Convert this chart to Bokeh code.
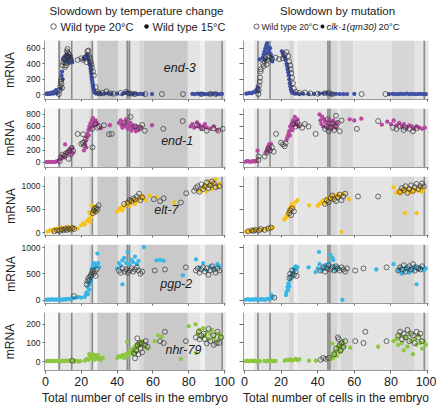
from bokeh.plotting import figure
from bokeh.layouts import column, row
from bokeh.models import Range1d, FixedTicker, BoxAnnotation, Span, Label
from bokeh.embed import file_html
from bokeh.resources import INLINE

FONT = "Liberation Sans"

# ---------------- data ----------------
genes = ["end-3", "end-1", "elt-7", "pgp-2", "nhr-79"]
gene_colors = ["#3f51a5", "#b5489f", "#f6c21c", "#3ab6e6", "#8dc63f"]
y_ticks = [[0, 200, 400, 600], [0, 200, 400, 600, 800], [0, 500, 1000], [0, 500, 1000], [0, 100, 200]]
y_limits = [(-60, 700), (-85, 900), (-60, 1210), (-60, 1050), (-47, 263)]
x_ticks = [0, 20, 40, 60, 80, 100]
gene_label_x = [75, 73.5, 67.5, 73, 77]
gene_label_y = [350, 364, 480, 300, 63]

# background timing bands (cells in embryo)
left_band_start = [7.0, 9.0, 15.0, 24.3, 26.5, 29.0, 40.5, 45.4, 47.6, 52.4, 55.0, 79.5, 86.5, 89.0, 98.0]
left_band_end = [9.0, 14.4, 24.3, 26.0, 29.0, 40.5, 45.4, 47.6, 52.4, 55.0, 79.5, 86.5, 89.0, 98.0, 101.0]
left_band_shade = ["mid", "light", "light", "mid", "pale", "dark", "light", "dark", "light", "mid",
                   "dark", "light", "pale", "mid", "light"]
left_lines = [7.7, 14.7, 26.2, 45.7, 46.9, 98.6]
right_band_start = [5.4, 7.4, 14.2, 24.3, 27.0, 29.0, 45.4, 47.0, 50.8, 52.4, 59.5, 80.5, 93.0]
right_band_end = [7.4, 13.8, 24.3, 27.0, 29.0, 45.4, 47.0, 50.8, 52.4, 59.5, 80.5, 93.0, 101.0]
right_band_shade = ["light", "light", "light", "mid", "pale", "light", "dark", "mid", "light", "mid",
                    "light", "mid", "light"]
right_lines = [7.4, 14.0, 45.6, 46.7, 98.2]

# end-3
end3_temp_20C = [(7.5,10),(8.0,60),(8.3,110),(8.6,170),(8.8,200),(9.0,140),(9.3,90),(9.6,380),(10.0,420),(10.5,460),
    (11.0,360),(11.5,380),(11.8,500),(12.0,560),(12.3,590),(12.6,540),(13.0,480),(13.3,520),(13.6,440),(11.2,410),
    (12.8,490),(14.0,460),(18.0,450),(20.0,470),(21.0,450),(22.5,480),(23.0,420),(23.5,560),(24.0,570),(24.5,500),
    (25.0,470),(25.3,430),(25.7,390),(26.0,350),(26.5,300),(27.0,250),(28.0,100),(29.0,40),(30.0,20),(32.0,25),
    (34.0,45),(36.0,20),(38.0,15),(42.0,25),(45.0,40),(46.5,20),(48.0,15),(50.0,10),(55.7,10),(65.0,10),(76.8,10),
    (87.0,8),(92.0,12),(95.0,10)]
end3_temp_15C = [(0.5,15),(1.0,10),(1.5,20),(2.0,15),(2.5,10),(3.0,25),(3.5,20),(4.0,30),(4.5,15),(5.0,40),(5.5,35),
    (6.0,60),(6.3,20),(8.5,80),(9.0,250),(9.3,300),(9.6,200),(10.0,460),(10.3,480),(10.6,440),(11.0,500),(11.3,470),
    (11.6,430),(12.0,520),(12.3,490),(12.6,450),(13.0,470),(13.4,410),(13.8,480),(14.2,500),(14.6,460),(15.0,420),
    (21.5,460),(22.0,490),(22.5,470),(23.0,510),(23.3,520),(23.6,480),(24.0,500),(24.3,440),(24.6,410),(25.0,380),
    (25.2,340),(25.4,300),(25.6,270),(25.8,230),(26.0,200),(26.2,170),(26.4,140),(26.6,110),(26.8,80),(27.0,60),
    (27.3,40),(27.6,30),(28.0,20),(28.5,25),(29.0,15),(30.0,20),(31.0,10),(33.0,15),(35.0,20),(37.0,10),(40.0,15),
    (43.0,10),(44.5,25),(45.5,30),(46.5,15),(47.5,20),(48.5,10),(50.0,15),(51.5,10),(53.0,12),(54.5,8),(59.5,10),
    (82.0,12),(83.5,10),(85.0,15),(86.5,10),(88.0,12),(89.5,8),(91.0,10),(92.5,12),(94.0,15),(95.5,10),(97.0,8),(98.5,12)]
end3_mut_20C = [(7.6,10),(7.8,60),(8.0,120),(8.3,170),(8.5,220),(8.8,300),(9.0,330),(10.2,400),(10.6,370),(11.0,430),
    (11.5,470),(12.0,390),(12.5,450),(13.0,500),(13.5,480),(15.0,470),(17.0,480),(19.0,460),(21.0,470),(22.0,520),
    (23.0,550),(24.0,500),(24.5,430),(25.0,380),(25.3,330),(25.6,280),(26.0,220),(26.5,150),(27.0,80),(28.0,40),
    (30.0,25),(33.0,30),(36.0,20),(40.0,15),(44.0,20),(46.0,25),(48.0,10),(64.0,10),(77.0,10)]
end3_mut_clk1 = [(1,15),(2,20),(3,25),(4,20),(5,35),(6,40),(6.5,60),(7,70),(7.3,100),(7.5,50),(8.3,455),(10,480),
    (10.5,520),(11,560),(11.5,600),(12,640),(12.4,665),(12.8,620),(13.2,580),(13.6,550),(14,600),(14.4,520),(14.8,480),
    (15.2,430),(11.3,450),(12.2,540),(20.5,560),(21,530),(21.5,500),(22,480),(22.5,450),(23,400),(23.3,370),(23.6,330),
    (23.9,290),(24.2,250),(24.5,200),(24.8,150),(25.1,110),(25.4,70),(25.8,40),(26.3,25),(27,20),(28,15),(30,10),
    (32,15),(35,10),(38,12),(41,15),(43,20),(45,25),(46.5,15),(48,10),(50,12),(52,10),(54,8),(56,10),(60,12),(79,10),
    (81,12),(82.5,10),(84,8),(85.5,12),(87,10),(88.5,15),(90,10),(91.5,12),(93,8),(94.5,10),(96,12),(97.5,10),(99,8)]

# end-1
end1_temp_20C = [(8.0,20),(8.5,80),(9.5,130),(10.5,110),(11.5,150),(12.5,170),(13.5,200),(14.5,240),(15.5,190),(13,60),
    (18,475),(20,310),(21,330),(21.5,290),(21,470),(22.5,390),(26.3,250),(26,560),(27.8,640),(29,580),(30,600),
    (32.7,620),(35.5,470),(37,476),(44,660),(47.5,760),(50,600),(53,580),(54,625),(55.5,530),(65.8,560),(76.6,690),
    (84.6,620),(87.4,570),(90,530),(93.7,570),(96.4,530),(99,560)]
end1_temp_15C = [(0.5,5),(1.5,10),(2.5,5),(3.5,10),(4.5,5),(5.5,10),(6.5,20),(7.5,30),(8.5,60),(9.5,100),(10.5,80),
    (11,300),(12,150),(13,180),(14,220),(15,250),(15.5,160),(14.5,120),(21.5,200),(22,300),(22.5,360),(23,420),
    (23.5,480),(24,540),(24.5,600),(25,560),(25.5,640),(26,700),(26.5,740),(27,680),(22.8,250),(24.2,450),(25.2,650),
    (26.2,600),(27.5,620),(28,700),(29,650),(31,570),(36,620),(41,660),(42,700),(42.5,620),(43,580),(44,650),
    (44.5,600),(45,720),(46,560),(46.5,640),(47,600),(48,530),(48.5,580),(49,620),(50,560),(50.5,520),(51,600),
    (52,540),(53,580),(45.5,680),(47.5,660),(59.5,620),(81,600),(82,640),(83,580),(84.6,670),(85,600),(86,620),
    (87,560),(88,600),(89,640),(90,580),(92,560),(94,600),(96,540)]
end1_mut_20C = [(7.6,40),(7.8,100),(11,100),(12,160),(13,230),(14,200),(15,250),(16,180),(17.3,476),(20,330),(21,300),
    (22,270),(22.5,320),(26.5,640),(28,600),(29,660),(30,620),(31.5,580),(33,640),(35,600),(38.9,476),(44,560),(45,600),
    (46,520),(45.5,720),(47,580),(48,650),(49,540),(50,600),(50,780),(51,660),(52,520),(53,700),(61.4,560),(73,690),
    (81,580),(83,560),(85,600),(87,540),(88,580),(90,560),(92,520),(94,570)]
end1_mut_clk1 = [(0.5,10),(1.5,20),(2.5,15),(3.5,10),(4.5,20),(5.5,15),(6.5,25),(7.2,195),(12,170),(12.5,220),(13,260),
    (13.5,300),(14,240),(14.5,310),(13.2,200),(23,380),(23.5,420),(24,470),(24.5,520),(25,600),(25.5,560),(26,650),
    (26.5,700),(27,620),(27.5,760),(28,680),(28.5,640),(29,720),(29.5,600),(24.8,450),(26.2,540),(41,800),(41.5,700),
    (42,640),(43,600),(43.5,720),(44,680),(45,580),(45.5,640),(46,700),(47,600),(47.5,560),(48,650),(48.5,700),(49,620),
    (50,580),(50.5,660),(42.5,760),(57.5,720),(60,700),(63.8,730),(75,630),(78,680),(80,640),(81.5,700),(83,620),
    (84.5,660),(86,600),(87,640),(88.5,580),(90,620),(91.5,600),(92.5,560),(94,600),(95.5,580),(97,560),(98.5,580)]

# elt-7
elt7_temp_20C = [(5,30),(6.5,50),(8,40),(9,70),(10,50),(11,80),(12,60),(13,90),(14,70),(15,100),(16,80),(26.5,420),
    (27,480),(27.5,520),(28,460),(28.5,540),(29,500),(29.7,590),(44,620),(46,650),(47,700),(48,680),(49,740),(50,720),
    (51,780),(52.3,840),(53,700),(54,760),(60.5,720),(64,680),(66,740),(75.6,650),(78.6,850),(83,900),(84,960),
    (85,1000),(86,880),(87,1040),(88,940),(89,1000),(90,1080),(91,960),(92,1020),(93,1100),(94,1060),(95,980),(97,1000)]
elt7_temp_15C = [(1,20),(2,40),(3,60),(4,30),(5,80),(6,50),(7,90),(8,70),(9,110),(10,60),(11,90),(12,130),(13,80),
    (14,110),(15,60),(16,120),(18,90),(20,160),(21,200),(22,180),(23,250),(24,290),(25,230),(25.5,330),(26,380),
    (24.5,430),(26.5,480),(27,520),(27.5,560),(28,440),(26,580),(40,450),(41,500),(42,540),(43,480),(44,560),(45,600),
    (46,640),(47,580),(48,660),(49,700),(50,620),(51,680),(52,720),(53,760),(54,800),(55,740),(56,700),(58,800),
    (62,770),(72,650),(86,900),(88,960),(89,1020),(90,880),(91,1100),(92,1000),(93,940),(94,1060),(95,1150),(96,980),
    (97,1050)]
elt7_mut_20C = [(2,30),(4,50),(5,40),(6,60),(8,50),(9,80),(11,60),(13,90),(14.5,110),(24.5,420),(25,480),(25.5,380),
    (26,520),(27,460),(44,620),(45,700),(46,660),(47,740),(48,800),(49,720),(50,680),(51,760),(52,820),(53,700),(54,780),
    (55,840),(62,780),(73,780),(85,880),(86,960),(87,920),(88,1000),(89,860),(90,940),(91,1020),(92,900),(93,980),
    (94,1050),(95,940),(96,1000),(97,1060),(98,1000)]
elt7_mut_clk1 = [(1,20),(2.5,40),(3.5,30),(5,60),(6.5,50),(8,70),(10,60),(12,90),(13.5,100),(14.5,80),(15.5,120),
    (21.7,280),(22.5,320),(23,360),(23.5,400),(24,440),(24.5,500),(25,540),(25.5,580),(26,620),(27,560),(28,660),
    (29,700),(23.8,350),(35.3,590),(40,580),(41,620),(42,660),(43,700),(44,640),(45,740),(46,700),(47,780),(48,720),
    (49,800),(50,760),(51,820),(52,780),(54,840),(53,20),(57,720),(87.6,420),(94,420),(81.4,980),(83,860),(84,900),
    (85,840),(86,920),(87,880),(88,960),(89,900),(90,860),(91,940),(92,880),(93,920),(95,900),(96,960),(97,880),(98,940)]

# pgp-2
pgp2_temp_20C = [(16,80),(23,300),(23.5,360),(24,420),(24.5,380),(25,450),(25.5,480),(26,520),(26.5,560),(27,500),
    (27.5,540),(28,460),(28.5,580),(41,560),(42,520),(43,600),(44,540),(45,580),(46,520),(47,560),(48,600),(49,540),
    (50,580),(51,620),(52,560),(53,500),(54,540),(61,560),(66.7,580),(78.4,620),(84,560),(85,600),(86,520),(87,580),
    (88,620),(89,540),(90,600),(91,480),(92,560),(93,640),(94,580),(95,520),(96,600),(97,560)]
pgp2_temp_15C = [(0.5,10),(1.5,15),(2.5,10),(3.5,20),(4.5,10),(5.5,15),(6.5,10),(7.5,20),(8.5,15),(9.5,10),(10.5,20),
    (11.5,15),(12.5,25),(13.5,20),(14.5,30),(15.5,40),(17,50),(18.5,60),(20,50),(22,60),(22.5,100),(23,150),(23.5,250),
    (24,330),(24.5,200),(25,300),(25.5,380),(23.8,120),(25.2,450),(26,600),(26.5,650),(27,700),(27.5,620),(28,680),
    (28.5,640),(29,880),(29.5,700),(30,620),(40,600),(41,700),(42,650),(43,750),(43,300),(44,800),(45,700),(46,900),
    (47,680),(48,760),(49,720),(50,820),(51,680),(52,740),(55,1000),(62,750),(64,760),(66,740),(76.6,470),(84,770),
    (86,620),(88,700),(90,560),(92,640),(94,600),(96,680),(97,640)]
pgp2_mut_20C = [(16.3,50),(24.5,420),(25,500),(25.5,440),(26,560),(27,480),(28,540),(28.5,460),(41.6,560),(43,620),
    (44,540),(45,600),(46,660),(47,580),(48,620),(49,560),(50,640),(51,600),(52,560),(53,620),(54,580),(55,540),(56,600),
    (60.5,560),(65,600),(77.6,620),(84,560),(85,620),(86,580),(87,660),(88,540),(89,600),(90,640),(91,580),(92,680),
    (93,560),(94,620),(95,600),(96,580),(97,640)]
pgp2_mut_clk1 = [(0.5,10),(2,20),(3,10),(4,15),(5,10),(6,20),(7,15),(8,10),(9,20),(10,15),(11,10),(12,20),(13,25),
    (14,30),(14.6,100),(15.5,60),(22.7,100),(23,160),(23.5,250),(24,320),(24.5,260),(25,380),(25.5,450),(26,520),
    (26.5,480),(27,600),(27.5,560),(28,640),(29,620),(23.8,200),(35,620),(40.7,910),(38.9,530),(40,600),(41,680),
    (42,560),(43,620),(44,660),(45,600),(46,700),(47,860),(48,800),(48.5,760),(49,640),(49.5,600),(50,560),(50.6,620),
    (53.5,10),(72,580),(81.4,680),(84,560),(85,600),(86,500),(87,540),(88,620),(89,580),(90,520),(91,600),(92,560),
    (93,640),(94,300),(95,580),(96,620),(97,600),(98,560),(99,600)]

# nhr-79
nhr79_temp_20C = [(15,5),(49.5,46),(50,18),(50.5,60),(51.3,125),(51.5,90),(52,40),(52.5,100),(53,70),(53.7,98),(54,50),
    (55.5,90),(56,110),(57,80),(64,110),(66,100),(66.7,160),(78.4,110),(84,130),(85.6,160),(86,120),(87,140),(88.3,150),
    (89,120),(90,98),(91,175),(92,110),(93.7,140),(94,90),(95.5,100),(96,160),(97,100),(98,130)]
nhr79_temp_15C = [(0.5,2),(1.5,5),(2.5,3),(3.5,6),(4.5,2),(5.5,4),(6.5,3),(7.5,5),(8.5,2),(9.5,6),(10.5,3),(11.5,5),
    (12.5,4),(13.5,6),(14.5,3),(15.5,5),(16.5,2),(17.5,4),(18.5,0),(19.5,3),(22,5),(23,15),(24,10),(25,30),(25.5,20),
    (26,35),(26.5,15),(27,25),(27.5,10),(28,30),(28.5,20),(29,35),(29.5,15),(30,25),(31,10),(32,20),(24.5,40),(27.2,38),
    (40,20),(41,30),(42,25),(43,35),(44,20),(45,40),(45.6,107),(46,30),(46.5,50),(47,45),(47.5,60),(48,55),(48.5,40),
    (49,70),(49.5,65),(50,80),(50.5,50),(51,90),(51.5,75),(52,95),(52.5,85),(53,100),(54,110),(55,80),(57,70),(61,110),
    (63,140),(65,135),(75.7,15),(80,190),(83.8,200),(84,46),(85,150),(86,170),(87,130),(88,180),(89,140),(90,160),
    (91,120),(92,150),(93,170),(94,130),(95,110),(96,150),(97,120),(98,140)]
nhr79_mut_20C = [(41.6,10),(43,20),(44.5,15),(46,20),(49,40),(50,70),(51,130),(51.5,120),(52,90),(52.5,60),(53,100),
    (54,80),(55,110),(60.5,110),(65,100),(66,160),(77.6,110),(84,140),(85,160),(86,120),(87,150),(88,130),(89,170),
    (90,110),(91,150),(92,140),(93,100),(94,160),(95,130),(96,150),(97,110)]
nhr79_mut_clk1 = [(0.5,3),(1.5,5),(2.5,2),(3.5,6),(4.5,3),(5.5,5),(6.5,2),(7.5,4),(8.5,3),(11,4),(12,2),(13,6),(14,3),
    (15,5),(16,2),(17,4),(22,5),(23,10),(24,8),(25,12),(26,6),(27,10),(28,15),(29,8),(30,12),(35.3,5),(39,5),(47,10),
    (47.5,30),(48,97),(48.5,20),(49,50),(49.5,40),(50,60),(50.5,30),(51,80),(51.5,70),(52,50),(52.5,90),(53,60),(54,110),
    (54.5,80),(57.8,75),(73,80),(81.4,110),(83,120),(84,90),(85,140),(86,100),(87,60),(88,130),(89,80),(90,150),(91,110),
    (92,40),(93,120),(94,90),(95,140),(96,100),(97,70),(98,110),(99,90)]

temp_open = [end3_temp_20C, end1_temp_20C, elt7_temp_20C, pgp2_temp_20C, nhr79_temp_20C]
temp_fill = [end3_temp_15C, end1_temp_15C, elt7_temp_15C, pgp2_temp_15C, nhr79_temp_15C]
mut_open = [end3_mut_20C, end1_mut_20C, elt7_mut_20C, pgp2_mut_20C, nhr79_mut_20C]
mut_fill = [end3_mut_clk1, end1_mut_clk1, elt7_mut_clk1, pgp2_mut_clk1, nhr79_mut_clk1]

# ---------------- styling ----------------
shade_colors = {"pale": "#efefef", "light": "#e4e4e4", "mid": "#d6d6d6", "dark": "#c9c9c9"}
LINE_COLOR = "#8a8a8a"
TEXT_COLOR = "#222222"

LEFT_W, RIGHT_W = 235, 201
PANEL_H, LAST_H, HEAD_H = 68, 95, 40


def split(pts):
    return [p[0] for p in pts], [p[1] for p in pts]


def make_panel(col, i):
    last = i == len(genes) - 1
    if col == 0:
        w, mbl, mbr = LEFT_W, 40, 10
        bands = (left_band_start, left_band_end, left_band_shade, left_lines)
        open_pts, fill_pts = temp_open[i], temp_fill[i]
    else:
        w, mbl, mbr = RIGHT_W, 8, 8
        bands = (right_band_start, right_band_end, right_band_shade, right_lines)
        open_pts, fill_pts = mut_open[i], mut_fill[i]
    p = figure(width=w, height=LAST_H if last else PANEL_H, title=None,
               x_range=Range1d(-0.5, 100.5), y_range=Range1d(*y_limits[i]),
               output_backend="svg", toolbar_location=None,
               min_border_left=mbl, min_border_right=mbr, min_border_top=0,
               min_border_bottom=36 if last else 9)
    p.background_fill_color = "#f8f8f8"
    p.outline_line_color = None
    p.grid.visible = False

    for s, e, sh in zip(bands[0], bands[1], bands[2]):
        p.add_layout(BoxAnnotation(left=s, right=e, fill_color=shade_colors[sh], fill_alpha=1.0,
                                   line_color=None, level="underlay"))
    for lx in bands[3]:
        p.add_layout(Span(location=lx, dimension="height", line_color=LINE_COLOR,
                          line_width=1.6, level="underlay"))

    fx, fy = split(fill_pts)
    p.scatter(fx, fy, marker="circle", size=4.3, fill_color=gene_colors[i], line_color=None)
    ox, oy = split(open_pts)
    p.scatter(ox, oy, marker="circle", size=5.0, fill_color=None, line_color="#333333", line_width=0.7)

    # axes
    p.xaxis.ticker = FixedTicker(ticks=x_ticks)
    p.xaxis.axis_line_color = "#9a9a9a"
    p.xaxis.major_tick_line_color = "#666666"
    p.xaxis.major_tick_in = 0
    p.xaxis.minor_tick_line_color = None
    if last:
        p.xaxis.major_tick_out = 3
        p.xaxis.major_label_standoff = 3
        p.xaxis.major_label_text_font = FONT
        p.xaxis.major_label_text_font_size = "12.5px"
        p.xaxis.major_label_text_color = TEXT_COLOR
        p.xaxis.axis_label = "Total number of cells in the embryo"
        p.xaxis.axis_label_text_font = FONT
        p.xaxis.axis_label_text_font_size = "12px"
        p.xaxis.axis_label_text_font_style = "normal"
        p.xaxis.axis_label_text_color = TEXT_COLOR
        p.xaxis.axis_label_standoff = 2
    else:
        p.xaxis.major_tick_out = 2
        p.xaxis.major_label_standoff = 0
        p.xaxis.major_label_overrides = {t: "" for t in x_ticks}
        p.xaxis.major_label_text_font_size = "2px"

    p.yaxis.ticker = FixedTicker(ticks=y_ticks[i])
    p.yaxis.axis_line_color = "#9a9a9a"
    p.yaxis.major_tick_line_color = "#666666"
    p.yaxis.major_tick_in = 0
    p.yaxis.minor_tick_line_color = None
    if col == 0:
        widest = max(len(str(t)) for t in y_ticks[i])
        p.yaxis.major_tick_out = 2
        p.yaxis.major_label_standoff = 2
        p.yaxis.major_label_text_font = FONT
        p.yaxis.major_label_text_font_size = "8.5px"
        p.yaxis.major_label_text_color = TEXT_COLOR
        p.yaxis.axis_label = "mRNA"
        p.yaxis.axis_label_text_font = FONT
        p.yaxis.axis_label_text_font_size = "12px"
        p.yaxis.axis_label_text_font_style = "normal"
        p.yaxis.axis_label_text_color = TEXT_COLOR
        # keep the "mRNA" labels vertically aligned across panels
        p.yaxis.axis_label_standoff = 1 if widest == 4 else 6
        p.add_layout(Label(x=gene_label_x[i], y=gene_label_y[i], text=genes[i], text_font=FONT,
                           text_font_style="italic", text_font_size="12.5px", text_color=TEXT_COLOR,
                           text_align="center", text_baseline="middle"))
    else:
        p.yaxis.major_tick_out = 4
        p.yaxis.major_label_standoff = 0
        p.yaxis.major_label_overrides = {t: "" for t in y_ticks[i]}
        p.yaxis.major_label_text_font_size = "2px"
    return p


# header spanning both columns (x and y in pixels of the header strip)
HEAD_W = LEFT_W + RIGHT_W
head = figure(width=HEAD_W, height=HEAD_H, title=None, x_range=Range1d(0, HEAD_W), y_range=Range1d(0, HEAD_H),
              output_backend="svg", toolbar_location=None, min_border=0,
              min_border_left=0, min_border_right=0, min_border_top=0, min_border_bottom=0,
              x_axis_location=None, y_axis_location=None)
head.outline_line_color = None
head.grid.visible = False


def htext(x, y, t, size, style="normal", align="left"):
    head.add_layout(Label(x=x, y=y, text=t, text_font=FONT, text_font_size=size, text_font_style=style,
                          text_color=TEXT_COLOR, text_align=align, text_baseline="middle"))


htext(136, 30, "Slowdown by temperature change", "11.5px", align="center")
head.scatter([53], [14], marker="circle", size=5.5, fill_color=None, line_color="#333333", line_width=0.8)
htext(60, 14, "Wild type 20°C", "11px")
head.scatter([146], [14], marker="circle", size=4.5, fill_color="#111111", line_color=None)
htext(152, 14, "Wild type 15°C", "11px")

htext(337, 30, "Slowdown by mutation", "11.5px", align="center")
head.scatter([256], [14], marker="circle", size=5, fill_color=None, line_color="#333333", line_width=0.8)
htext(261, 14, "Wild type 20°C", "8.6px")
head.scatter([322], [14], marker="circle", size=4, fill_color="#111111", line_color=None)
htext(326, 14, "clk-1(qm30)", "9.5px", style="italic")
htext(378, 14, "20°C", "9.5px")

left_col = column(*[make_panel(0, i) for i in range(len(genes))])
right_col = column(*[make_panel(1, i) for i in range(len(genes))])
layout = column(head, row(left_col, right_col))

open("out.html", "w").write(file_html(layout, INLINE))
